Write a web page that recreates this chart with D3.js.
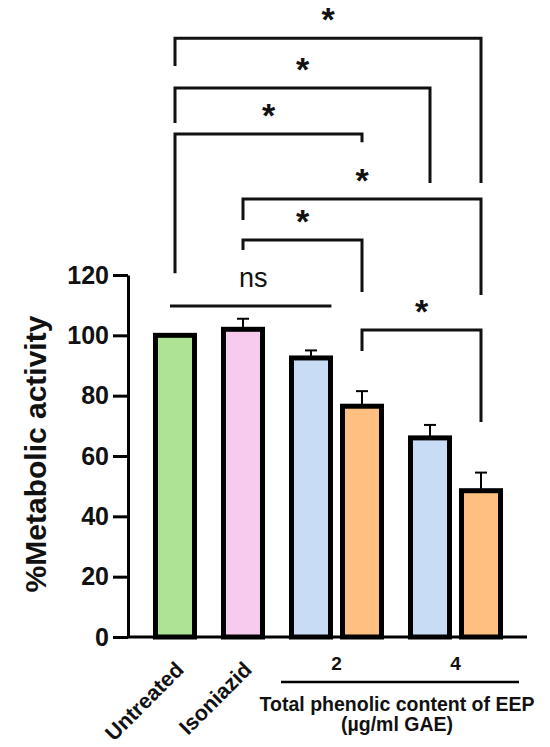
<!DOCTYPE html>
<html>
<head>
<meta charset="utf-8">
<script src="https://cdn.jsdelivr.net/npm/d3@7"></script>
<style>
  body { margin: 0; background: #fff; }
  text { font-family: "Liberation Sans", Arial, sans-serif; }
</style>
</head>
<body>
<div id="chart"></div>
<script>
// bar data
var barNames = ["Untreated", "Isoniazid", "EEP 2 a", "EEP 2 b", "EEP 4 a", "EEP 4 b"];
var barGroup = [0, 1, 2, 2, 3, 3];
var groupLabels = ["Untreated", "Isoniazid", "2", "4"];
var means = [100, 102, 92.5, 76.5, 66, 48.5];
var errs = [0, 3.5, 2.5, 5, 4.3, 6];
var barColors = ["#aee396", "#f7cbee", "#c9dcf6", "#ffbf80", "#c9dcf6", "#ffbf80"];
var yTicks = [0, 20, 40, 60, 80, 100, 120];

// significance brackets: from bar, to bar, bracket level, leg ends (all in % units)
var cmpFrom = [0, 0, 0, 1, 1, 3];
var cmpTo = [5, 4, 3, 5, 3, 5];
var cmpLevel = [198.5, 182, 166.7, 145.2, 131.6, 101.8];
var cmpLeftEnd = [189.3, 170.4, 120.6, 138.2, 128.3, 94.8];
var cmpRightEnd = [150.5, 150.5, 164, 113.4, 114.4, 71.3];
var cmpLabel = ["*", "*", "*", "*", "*", "*"];
var nsFrom = 0, nsTo = 2.3, nsLevel = 109.7;

var width = 550, height = 747;
var svg = d3.select("#chart").append("svg")
  .attr("width", width)
  .attr("height", height);

// slot positions: step 1 between groups, 0.75 inside a group
var slots = [];
var s = 0;
for (var i = 0; i < barGroup.length; i++) {
  if (i > 0) s += (barGroup[i] == barGroup[i-1]) ? 0.75 : 1;
  slots.push(s);
}

var x = d3.scaleLinear().domain([0, 4.5]).range([175, 481]);
var y = d3.scaleLinear().domain([0, 120]).range([637, 275]);
var barW = 39;

// y axis
var yAxis = svg.append("g")
  .attr("transform", "translate(128,0)")
  .call(d3.axisLeft(y).tickValues(yTicks).tickSize(15).tickSizeOuter(0).tickPadding(4));
yAxis.select(".domain").attr("stroke", "#000").attr("stroke-width", 3);
yAxis.selectAll(".tick line").attr("stroke", "#000").attr("stroke-width", 3);
yAxis.selectAll(".tick text")
  .attr("font-size", 25)
  .attr("font-weight", "bold")
  .attr("fill", "#111")
  .style("font-family", "'Liberation Sans', Arial, sans-serif");

svg.append("text")
  .attr("transform", "translate(46,454) rotate(-90)")
  .attr("text-anchor", "middle")
  .attr("font-size", 30)
  .attr("font-weight", "bold")
  .attr("fill", "#111")
  .text("%Metabolic activity");

// bars
svg.selectAll("rect.bar")
  .data(means)
  .enter()
  .append("rect")
  .attr("class", "bar")
  .attr("x", function(d, i) { return x(slots[i]) - barW / 2; })
  .attr("y", function(d) { return y(d); })
  .attr("width", barW)
  .attr("height", function(d) { return y(0) - y(d); })
  .attr("fill", function(d, i) { return barColors[i]; })
  .attr("stroke", "#000")
  .attr("stroke-width", 5);

// error bars (upper only)
var errIdx = d3.range(means.length).filter(function(i) { return errs[i] > 0; });
var eb = svg.selectAll("g.err")
  .data(errIdx)
  .enter()
  .append("g")
  .attr("class", "err");
eb.append("line")
  .attr("x1", function(i) { return x(slots[i]); })
  .attr("x2", function(i) { return x(slots[i]); })
  .attr("y1", function(i) { return y(means[i]) - 2; })
  .attr("y2", function(i) { return y(means[i] + errs[i]); })
  .attr("stroke", "#000").attr("stroke-width", 2);
eb.append("line")
  .attr("x1", function(i) { return x(slots[i]) - 6; })
  .attr("x2", function(i) { return x(slots[i]) + 6; })
  .attr("y1", function(i) { return y(means[i] + errs[i]); })
  .attr("y2", function(i) { return y(means[i] + errs[i]); })
  .attr("stroke", "#000").attr("stroke-width", 2);

// x axis line
svg.append("line")
  .attr("x1", 128).attr("x2", 527)
  .attr("y1", y(0)).attr("y2", y(0))
  .attr("stroke", "#000").attr("stroke-width", 3);

// rotated category labels
for (var g = 0; g < 2; g++) {
  var bi = barGroup.indexOf(g);
  svg.append("text")
    .attr("transform", "translate(" + (x(slots[bi]) + 10) + ",671) rotate(-45)")
    .attr("text-anchor", "end")
    .attr("font-size", 21.5)
    .attr("font-weight", "bold")
    .attr("fill", "#111")
    .text(groupLabels[g]);
}
// dose labels
for (var g = 2; g < 4; g++) {
  var idx = [];
  barGroup.forEach(function(b, i) { if (b == g) idx.push(i); });
  var cx = (x(slots[idx[0]]) + x(slots[idx[idx.length-1]])) / 2;
  svg.append("text")
    .attr("x", cx).attr("y", 670)
    .attr("text-anchor", "middle")
    .attr("font-size", 19)
    .attr("font-weight", "bold")
    .attr("fill", "#111")
    .text(groupLabels[g]);
}
svg.append("line")
  .attr("x1", 281).attr("x2", 519)
  .attr("y1", 682).attr("y2", 682)
  .attr("stroke", "#000").attr("stroke-width", 2.5);
svg.append("text")
  .attr("x", 397).attr("y", 711)
  .attr("text-anchor", "middle")
  .attr("font-size", 19.5)
  .attr("font-weight", "bold")
  .attr("fill", "#111")
  .text("Total phenolic content of EEP");
svg.append("text")
  .attr("x", 397).attr("y", 731)
  .attr("text-anchor", "middle")
  .attr("font-size", 19.5)
  .attr("font-weight", "bold")
  .attr("fill", "#111")
  .text("(µg/ml GAE)");

// brackets
for (var k = 0; k < cmpFrom.length; k++) {
  var xa = x(slots[cmpFrom[k]]), xb = x(slots[cmpTo[k]]);
  svg.append("path")
    .attr("d", "M" + xa + "," + y(cmpLeftEnd[k]) + "V" + y(cmpLevel[k]) + "H" + xb + "V" + y(cmpRightEnd[k]))
    .attr("fill", "none")
    .attr("stroke", "#111")
    .attr("stroke-width", 3);
  svg.append("text")
    .attr("x", (xa + xb) / 2)
    .attr("y", y(cmpLevel[k]) - 7)
    .attr("text-anchor", "middle")
    .attr("font-size", 34)
    .attr("font-weight", "bold")
    .attr("fill", "#111")
    .text(cmpLabel[k]);
}
// ns line
svg.append("line")
  .attr("x1", x(nsFrom) - 5).attr("x2", x(nsTo))
  .attr("y1", y(nsLevel)).attr("y2", y(nsLevel))
  .attr("stroke", "#111").attr("stroke-width", 3);
svg.append("text")
  .attr("x", (x(nsFrom) + x(nsTo)) / 2)
  .attr("y", y(nsLevel) - 19)
  .attr("text-anchor", "middle")
  .attr("font-size", 27)
  .attr("fill", "#111")
  .text("ns");
</script>
</body>
</html>
